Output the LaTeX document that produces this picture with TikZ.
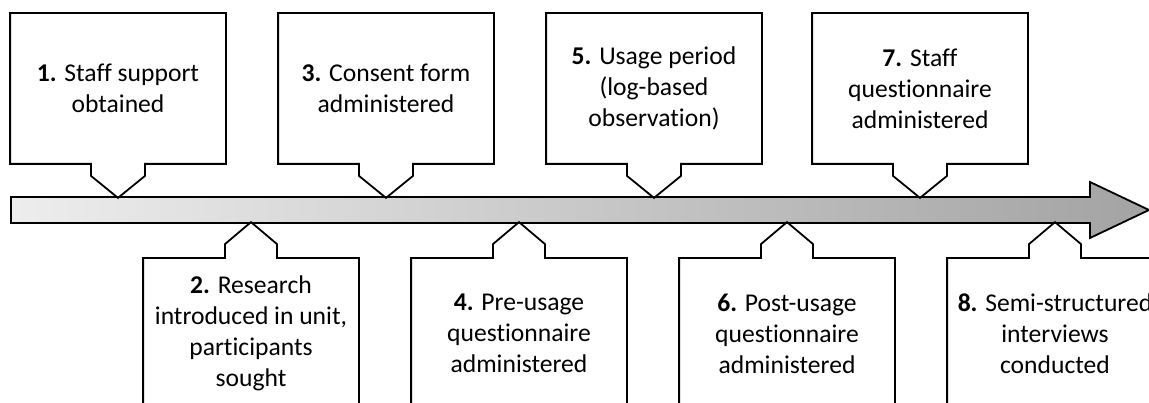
\documentclass[tikz,border=0pt]{standalone}
\usepackage{fontspec}
\setmainfont{Carlito}[Ligatures=NoCommon]
\usetikzlibrary{calc}

\begin{document}
\begin{tikzpicture}[
        x=1pt,y=1pt,
        %Environment config
        font=\fontsize{25.6}{31}\selectfont,
        line width=1.8pt,
        %Environment styles
        BoxCfg/.style={
            rectangle,
            minimum width=214,
            minimum height=149,
            align=center,
            inner sep=0pt
        },
        ArrowCfg/.style={
            draw,
            left color=black!7,
            right color=black!36
        }
    ]
    \useasboundingbox (0,0) rectangle (1149,403);
    \clip (0,0) rectangle (1149,403);

    %Timeline
    \path[ArrowCfg]
        (11,206) -- (1090,206) -- (1090,221) -- (1149,193)
        -- (1090,165) -- (1090,180) -- (11,180) -- cycle;

    \path
        (118,314.5) node[BoxCfg](S1){\textbf{1.} Staff support\\obtained}
            ++ (268,0) node[BoxCfg](S3){\textbf{3.} Consent form\\administered}
            ++ (268,0) node[BoxCfg](S5){\textbf{5.} Usage period\\(log-based\\observation)}
            ++ (266,0) node[BoxCfg](S7){\textbf{7.} Staff\\questionnaire\\administered}
        (251,69.5) node[BoxCfg](S2){\textbf{2.} Research\\introduced in unit,\\participants\\sought}
            ++ (268,0) node[BoxCfg](S4){\textbf{4.} Pre-usage\\questionnaire\\administered}
            ++ (268,0) node[BoxCfg](S6){\textbf{6.} Post-usage\\questionnaire\\administered}
            ++ (268,0) node[BoxCfg](S8){\textbf{8.} Semi-structured\\interviews\\conducted};

    %Callouts above the line
    \foreach \s in {S1,S3,S5,S7}
        \draw (\s.south west) -- ($(\s.south)+(-27,0)$) -- ++(0,-12)
            -- ($(\s.south)+(0,-34)$) -- ($(\s.south)+(27,-12)$) -- ++(0,12)
            -- (\s.south east) |- (\s.north west) -- cycle;

    %Callouts below the line
    \foreach \s in {S2,S4,S6,S8}
        \draw (\s.north west) -- ($(\s.north)+(-26,0)$) -- ++(0,14)
            -- ($(\s.north)+(0,36)$) -- ($(\s.north)+(26,14)$) -- ++(0,-14)
            -- (\s.north east) |- (\s.south west) -- cycle;
\end{tikzpicture}
\end{document}
